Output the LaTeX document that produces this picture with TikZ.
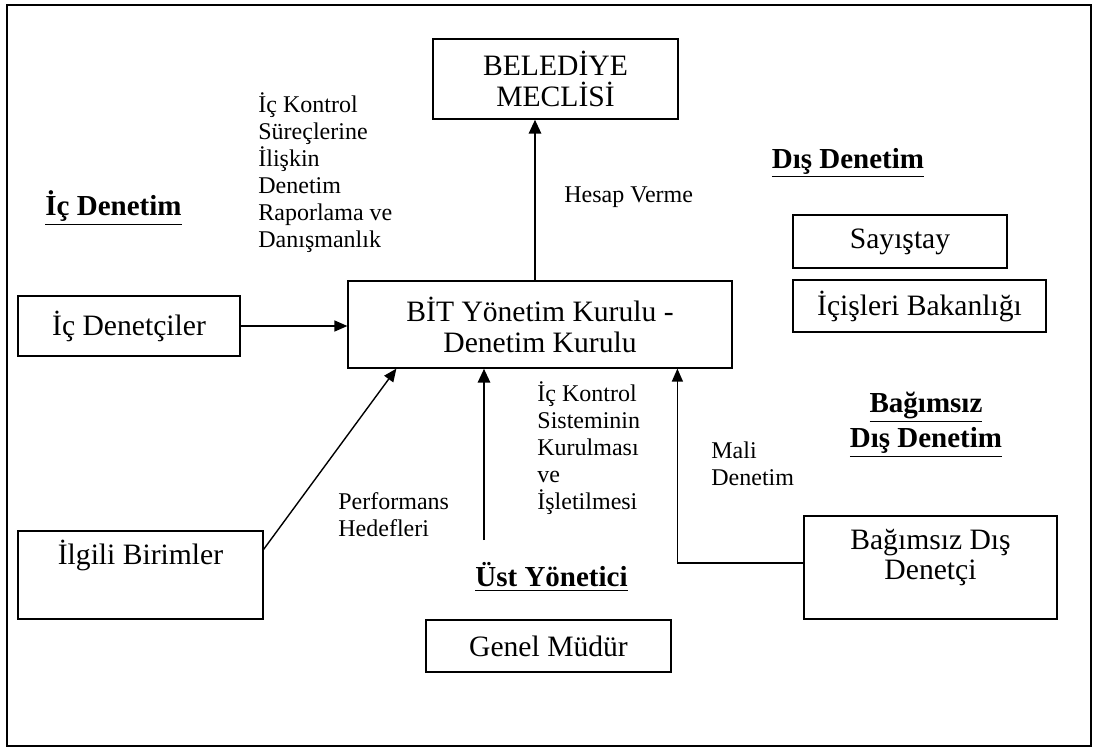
\documentclass[tikz,border=0pt]{standalone}
\usepackage{fontspec}
\setmainfont{Liberation Serif}
\usetikzlibrary{arrows.meta,calc}
\begin{document}
\begin{tikzpicture}[x=0.5pt,y=-0.5pt,
  box/.style={draw, line width=0.6pt, inner sep=0pt, align=center,
    font=\fontsize{14.8}{15.5}\selectfont},
  lbl/.style={inner sep=0pt, anchor=west, align=left,
    font=\fontsize{12}{13.5}\selectfont},
  head/.style={inner sep=0pt, align=center,
    font=\fontsize{14.5}{17.5}\selectfont\bfseries},
  thin/.style={line width=0.7pt, -{Triangle[width=5.5pt,length=6.5pt]}},
  thick/.style={line width=1.4pt, -{Triangle[width=6pt,length=7pt]}}
]
\useasboundingbox (0,0) rectangle (1097,749);
\draw[line width=0.6pt] (7,5) rectangle (1091,746);

% boxes
\node[box, minimum width=122.5pt, minimum height=40pt] (bel) at (555.5,79) {BELEDİYE\\MECLİSİ};
\node[box, minimum width=192pt, minimum height=43.5pt] (bit) at (540,324.5) {BİT Yönetim Kurulu -\\Denetim Kurulu};
\node[box, minimum width=111pt, minimum height=30pt] (icd) at (129,326) {İç Denetçiler};
\node[box, minimum width=122.5pt, minimum height=44pt] (ilg) at (140.5,575) {};
\node[inner sep=0pt, font=\fontsize{14.8}{15.5}\selectfont] (ilgt) at (140.5,555) {İlgili Birimler};
\node[box, minimum width=122.5pt, minimum height=26pt] (gen) at (548.5,646) {Genel Müdür};
\node[box, minimum width=107pt, minimum height=26.5pt] (say) at (900,241.5) {Sayıştay};
\node[box, minimum width=126.5pt, minimum height=26pt] (ici) at (919.5,306) {İçişleri Bakanlığı};
\node[box, minimum width=126.5pt, minimum height=51.5pt] (bag) at (930.5,567.5) {};
\node[inner sep=0pt, align=center, font=\fontsize{14.8}{15}\selectfont] (bagt) at (930.5,558) {Bağımsız Dış\\Denetçi};

% headings
\node[head] (hic) at (113.5,208) {\underline{İç Denetim}};
\node[head] (hdis) at (848,163) {\underline{Dış Denetim}};
\node[head] (hbag) at (926,424.5) {\underline{Bağımsız}\\\underline{Dış Denetim}};
\node[head] (hust) at (551.5,577) {\underline{Üst Yönetici}};

% labels
\node[lbl] (l1) at (258,172.5) {İç Kontrol\\Süreçlerine\\İlişkin\\Denetim\\Raporlama ve\\Danışmanlık};
\node[lbl] (l2) at (564,197) {Hesap Verme};
\node[lbl] (l3) at (537,448.5) {İç Kontrol\\Sisteminin\\Kurulması\\ve\\İşletilmesi};
\node[lbl] (l4) at (711,463.5) {Mali\\Denetim};
\node[lbl] (l5) at (338,515) {Performans\\Hedefleri};

% connectors
\coordinate (gstart) at (484,540);
\draw[thick] ([xshift=-2.5pt]bit.north) -- ([xshift=-2.5pt]bit.north |- bel.south);
\draw[thin] (icd.east) -- (icd.east -| bit.west);
\draw[thin] ([yshift=-9.5pt]ilg.north east) -- ([xshift=24.5pt]bit.south west);
\draw[thick] (gstart) -- (gstart |- bit.south);
\draw[thin] ([yshift=2.25pt]bag.west) -| ([xshift=165pt]bit.south west);
\end{tikzpicture}
\end{document}
